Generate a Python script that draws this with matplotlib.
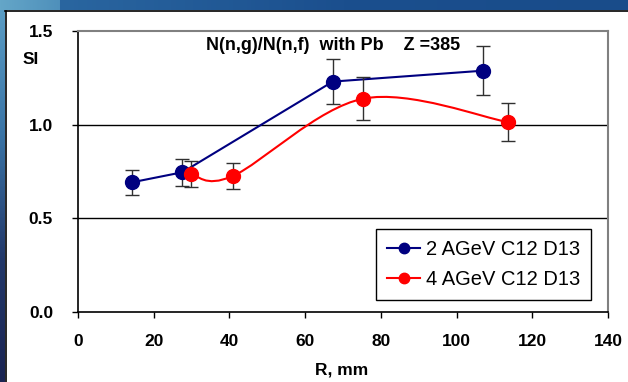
import matplotlib.pyplot as plt
import numpy as np
from matplotlib.path import Path
from matplotlib.patches import PathPatch
from matplotlib.colors import LinearSegmentedColormap

plt.rcParams['font.family'] = ['Liberation Sans', 'DejaVu Sans']

# data
r_2agev = [14.2, 27.6, 67.3, 106.9]
si_2agev = [0.692, 0.746, 1.23, 1.288]
err_2agev = [0.068, 0.073, 0.12, 0.13]

r_4agev = [29.8, 40.9, 75.4, 113.5]
si_4agev = [0.737, 0.726, 1.139, 1.014]
err_4agev = [0.07, 0.07, 0.115, 0.10]

labels = ['2 AGeV C12 D13', '4 AGeV C12 D13']
x_ticks = [0, 20, 40, 60, 80, 100, 120, 140]
y_ticks = [0.0, 0.5, 1.0, 1.5]

W, H = 628, 382
fig = plt.figure(figsize=(W / 100, H / 100), dpi=100)
fig.patch.set_facecolor('white')

# blue slide frame (top and left bands)
top = fig.add_axes([0, 1 - 10 / H, 1, 10 / H])
cm_top = LinearSegmentedColormap.from_list('top', ['#64a6c8', '#4f90bb', '#2a66a0', '#1b4f8e', '#194c8a'])
grad = np.concatenate([np.linspace(0, 0.25, 60), np.linspace(0.5, 1, W - 60)])
top.imshow(grad[None, :], aspect='auto', cmap=cm_top, extent=[0, 1, 0, 1])
top.axis('off')
left = fig.add_axes([0, 0, 5 / W, 1 - 10 / H])
cm_left = LinearSegmentedColormap.from_list('left', ['#1a2452', '#22386a', '#3a74a6', '#5a9cc4'])
left.imshow(np.linspace(0, 1, 200)[:, None], aspect='auto', cmap=cm_left, origin='lower', extent=[0, 1, 0, 1])
left.axis('off')
fig.add_artist(plt.Line2D([5 / W, 1], [1 - 10.5 / H, 1 - 10.5 / H], color='black', lw=1.2, transform=fig.transFigure))
fig.add_artist(plt.Line2D([5.5 / W, 5.5 / W], [0, 1 - 10.5 / H], color='black', lw=1.2, transform=fig.transFigure))

ax = fig.add_axes([78 / W, (H - 312) / H, 530 / W, 281 / H])
ax.set_xlim(0, 140)
ax.set_ylim(0, 1.5)

for y in [0.5, 1.0]:
    ax.axhline(y, color='black', lw=1, zorder=1)

# 2 AGeV: straight line
ax.errorbar(r_2agev, si_2agev, yerr=err_2agev, fmt='none', ecolor='#303030',
            elinewidth=1, capsize=5, capthick=1, zorder=2)
ax.plot(r_2agev, si_2agev, color='#000080', lw=1.5, marker='o', ms=10,
        mfc='#000080', mec='#000080', zorder=3, label=labels[0])

# 4 AGeV: smoothed line (bezier through the points)
pts = np.column_stack([r_4agev, si_4agev])
n = len(pts)
verts = [pts[0]]
codes = [Path.MOVETO]
for i in range(n - 1):
    p_prev = pts[i - 1] if i > 0 else pts[i]
    p_next2 = pts[i + 2] if i + 2 < n else pts[i + 1]
    c1 = pts[i] + (pts[i + 1] - p_prev) / 6
    c2 = pts[i + 1] - (p_next2 - pts[i]) / 6
    verts += [c1, c2, pts[i + 1]]
    codes += [Path.CURVE4] * 3
ax.add_patch(PathPatch(Path(verts, codes), facecolor='none', edgecolor='#ff0000', lw=1.5, zorder=4))
ax.errorbar(r_4agev, si_4agev, yerr=err_4agev, fmt='none', ecolor='#303030',
            elinewidth=1, capsize=5, capthick=1, zorder=5)
ax.plot(r_4agev, si_4agev, ls='none', marker='o', ms=10, mfc='#ff0000', mec='#ff0000', zorder=6)
ax.plot([], [], color='#ff0000', lw=1.5, marker='o', ms=10, label=labels[1])

ax.set_xticks(x_ticks)
ax.set_xticklabels([str(t) for t in x_ticks])
ax.set_yticks(y_ticks)
ax.set_yticklabels(['%.1f' % t for t in y_ticks])
ax.tick_params(direction='out', length=4, width=1, labelsize=12.5, colors='black')
ax.tick_params(axis='y', pad=14)
ax.tick_params(axis='x', pad=12)
for lab in ax.get_xticklabels() + ax.get_yticklabels():
    lab.set_fontweight('bold')

ax.spines['left'].set_color('black')
ax.spines['bottom'].set_color('black')
ax.spines['left'].set_linewidth(1.2)
ax.spines['bottom'].set_linewidth(1.2)
ax.spines['top'].set_color('#808080')
ax.spines['right'].set_color('#808080')
ax.spines['top'].set_linewidth(1.5)
ax.spines['right'].set_linewidth(1.5)

fig.text(333.5 / W, 1 - 46 / H, 'N(n,g)/N(n,f)  with Pb    Z =385', ha='center', va='center',
         fontsize=13, fontweight='bold')
fig.text(31 / W, 1 - 59 / H, 'SI', ha='center', va='center', fontsize=12.5, fontweight='bold')
fig.text(342 / W, 1 - 370 / H, 'R, mm', ha='center', va='center', fontsize=12.5, fontweight='bold')

leg = ax.legend(loc='upper right', bbox_to_anchor=(591 / W, 1 - 229 / H), bbox_transform=fig.transFigure,
                fontsize=14.5, frameon=True, fancybox=False, edgecolor='black', framealpha=1,
                handlelength=1.6, handletextpad=0.3, labelspacing=0.55, borderpad=0.55,
                markerscale=0.75, borderaxespad=0)
leg.get_frame().set_linewidth(1)

fig.savefig('out.png', dpi=100, facecolor='white')
